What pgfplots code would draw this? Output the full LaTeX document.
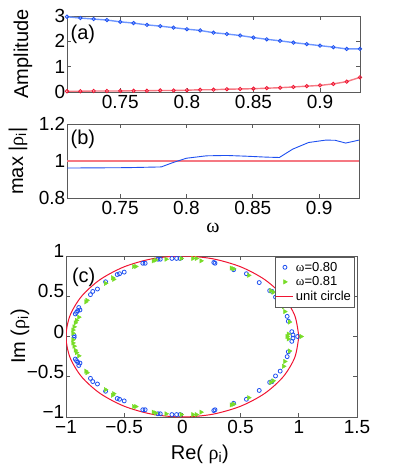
\documentclass[border=0pt]{standalone}
\usepackage{pgfplots}
\pgfplotsset{compat=1.18}
\usepackage{fontspec}
\setmainfont{Liberation Sans}
\newfontfamily\sym{Liberation Serif}

\definecolor{mblue}{RGB}{30,80,240}
\definecolor{lblue}{RGB}{110,150,255}
\definecolor{mred}{RGB}{240,20,50}
\definecolor{lred}{RGB}{245,120,130}
\definecolor{mgreen}{RGB}{120,220,40}
\definecolor{axgray}{RGB}{90,90,90}

\pgfplotsset{
  mstyle/.style={
    scale only axis,
    axis line style={axgray, line width=0.7pt},
    tick style={axgray, line width=0.7pt},
    tick align=inside,
    major tick length=4pt,
    tick label style={font=\fontsize{19}{19}\selectfont, text=black},
    xticklabel style={inner sep=3pt},
    yticklabel style={inner sep=1.5pt},
    label style={font=\fontsize{20}{20}\selectfont},
  },
}
\tikzset{tag/.style={anchor=north west, inner sep=0pt, font=\fontsize{20}{20}\selectfont}}

\begin{document}
\begin{tikzpicture}[x=1pt,y=1pt]
\useasboundingbox (0,0) rectangle (395,-469);

% (a) amplitudes
\begin{axis}[mstyle, at={(67pt,-92pt)}, anchor=south west,
  width=293pt, height=76pt, clip=false,
  xmin=0.71, xmax=0.93, ymin=0, ymax=3,
  xtick={0.75,0.8,0.85,0.9}, xticklabels={0.75,0.8,0.85,0.9},
  ytick={0,1,2,3}, yticklabels={0,1,2,3},
  ylabel={Amplitude},
  ylabel style={at={(axis description cs:-0.15,0.5)}, anchor=center},
]
\addplot[lblue, line width=1.4pt, mark=o, mark size=1.7pt,
  mark options={mblue, line width=0.8pt}] coordinates {
  (0.71,2.97) (0.72,2.92) (0.73,2.88) (0.74,2.84) (0.75,2.77) (0.76,2.72)
  (0.77,2.65) (0.78,2.60) (0.79,2.54) (0.80,2.48) (0.81,2.43) (0.82,2.34)
  (0.83,2.29) (0.84,2.23) (0.85,2.15) (0.86,2.08) (0.87,2.02) (0.88,1.95)
  (0.89,1.89) (0.90,1.83) (0.91,1.77) (0.92,1.70) (0.93,1.70)
};
\addplot[lred, line width=1.4pt, mark=o, mark size=1.7pt,
  mark options={mred, line width=0.8pt}] coordinates {
  (0.71,0.03) (0.72,0.03) (0.73,0.04) (0.74,0.04) (0.75,0.04) (0.76,0.05)
  (0.77,0.05) (0.78,0.06) (0.79,0.06) (0.80,0.07) (0.81,0.09) (0.82,0.09)
  (0.83,0.11) (0.84,0.12) (0.85,0.13) (0.86,0.15) (0.87,0.17) (0.88,0.20)
  (0.89,0.23) (0.90,0.26) (0.91,0.32) (0.92,0.41) (0.93,0.58)
};
\node[tag] at (rel axis cs:0.012,0.88) {(a)};
\end{axis}

% (b) max |rho_i|
\begin{axis}[mstyle, at={(67pt,-198pt)}, anchor=south west,
  width=292pt, height=74pt,
  xmin=0.71, xmax=0.93, ymin=0.8, ymax=1.2,
  xtick={0.75,0.8,0.85,0.9}, xticklabels={0.75,0.8,0.85,0.9},
  ytick={0.8,1,1.2}, yticklabels={0.8,1,1.2},
  xlabel={{\sym ω}},
  xlabel style={at={(axis description cs:0.5,-0.40)}, anchor=center},
  ylabel={max |{\sym ρ}\textsubscript{i}|},
  ylabel style={at={(axis description cs:-0.168,0.5)}, anchor=center},
]
\addplot[lred, line width=1.5pt] coordinates {(0.71,1) (0.93,1)};
\addplot[mblue, line width=0.9pt] coordinates {
  (0.710,0.962) (0.755,0.964) (0.781,0.968) (0.790,0.992) (0.800,1.015)
  (0.815,1.028) (0.830,1.030) (0.845,1.026) (0.860,1.021) (0.870,1.019)
  (0.880,1.064) (0.892,1.100) (0.905,1.113) (0.912,1.112) (0.920,1.097)
  (0.930,1.113)
};
\node[tag] at (rel axis cs:0.012,0.92) {(b)};
\end{axis}

% (c) eigenvalues in the complex plane
\begin{axis}[mstyle, at={(66pt,-417pt)}, anchor=south west,
  width=291pt, height=161pt,
  xmin=-1, xmax=1.5, ymin=-1, ymax=1,
  xtick={-1,-0.5,0,0.5,1,1.5}, xticklabels={−1,−0.5,0,0.5,1,1.5},
  ytick={-1,-0.5,0,0.5,1}, yticklabels={−1,−0.5,0,0.5,1},
  yticklabel style={yshift=5pt},
  xlabel={Re( {\sym ρ}\textsubscript{i})},
  xlabel style={at={(axis description cs:0.46,-0.23)}, anchor=center},
  ylabel={Im ({\sym ρ}\textsubscript{i})},
  ylabel style={at={(axis description cs:-0.158,0.5)}, anchor=center},
  legend style={at={(0.99,0.995)}, anchor=north east, draw=axgray,
    font=\fontsize{13}{13}\selectfont, inner xsep=1pt, inner ysep=3pt,
    row sep=0pt, cells={anchor=west}},
]
\addplot[only marks, mark=o, mark size=2pt, mark options={mblue, line width=0.8pt}]
coordinates {
  (-0.93,0.01) (-0.92,0.28) (-0.91,0.30) (-0.90,0.32) (-0.88,0.33) (-0.89,0.36)
  (-0.79,0.52) (-0.77,0.56) (-0.73,0.59) (-0.66,0.68) (-0.56,0.77) (-0.54,0.78)
  (-0.50,0.80) (-0.34,0.91) (-0.32,0.91) (-0.21,0.96) (-0.19,0.96) (-0.09,0.97)
  (-0.05,0.97) (-0.02,0.97) (0.27,0.92) (0.28,0.91) (0.44,0.83) (0.55,0.78)
  (0.66,0.67) (0.75,0.57) (0.77,0.56) (0.80,0.49) (0.84,0.43) (0.90,0.25)
  (0.91,0.19) (0.94,0.06) (0.95,0.02) (0.99,0)
  (-0.93,-0.01) (-0.92,-0.28) (-0.91,-0.30) (-0.90,-0.32) (-0.88,-0.33) (-0.89,-0.36)
  (-0.79,-0.52) (-0.77,-0.56) (-0.73,-0.59) (-0.66,-0.68) (-0.56,-0.77) (-0.54,-0.78)
  (-0.50,-0.80) (-0.34,-0.91) (-0.32,-0.91) (-0.21,-0.96) (-0.19,-0.96) (-0.09,-0.97)
  (-0.05,-0.97) (-0.02,-0.97) (0.27,-0.92) (0.28,-0.91) (0.44,-0.83) (0.55,-0.78)
  (0.66,-0.67) (0.75,-0.57) (0.77,-0.56) (0.80,-0.49) (0.84,-0.43) (0.90,-0.25)
  (0.91,-0.19) (0.94,-0.06) (0.95,-0.02)
};
\addlegendentry{{\sym ω}=0.80}
\addplot[only marks, mark=triangle*, mark size=2.5pt,
  mark options={mgreen, rotate=-90}]
coordinates {
  (-0.94,0.04) (-0.94,0.08) (-0.93,0.12) (-0.92,0.17) (-0.91,0.20) (-0.89,0.24)
  (-0.83,0.43) (-0.82,0.45) (-0.66,0.66) (-0.60,0.73) (-0.59,0.71) (-0.42,0.87)
  (-0.40,0.87) (-0.25,0.94) (-0.23,0.95) (-0.14,0.96) (-0.01,0.97) (0.09,0.97)
  (0.12,0.97) (0.16,0.94) (0.42,0.85) (0.44,0.84) (0.57,0.76) (0.76,0.57)
  (0.78,0.55) (0.87,0.37) (0.88,0.31) (0.92,0.18) (0.91,0.03) (0.90,0) (1.02,0)
  (-0.94,-0.04) (-0.94,-0.08) (-0.93,-0.12) (-0.92,-0.17) (-0.91,-0.20) (-0.89,-0.24)
  (-0.83,-0.43) (-0.82,-0.45) (-0.66,-0.66) (-0.60,-0.73) (-0.59,-0.71) (-0.42,-0.87)
  (-0.40,-0.87) (-0.25,-0.94) (-0.23,-0.95) (-0.14,-0.96) (-0.01,-0.97) (0.09,-0.97)
  (0.12,-0.97) (0.16,-0.94) (0.42,-0.85) (0.44,-0.84) (0.57,-0.76) (0.76,-0.57)
  (0.78,-0.55) (0.87,-0.37) (0.88,-0.31) (0.92,-0.18) (0.91,-0.03)
};
\addlegendentry{{\sym ω}=0.81}
\addplot[mred, line width=1pt, smooth] coordinates {
  (1,0) (0.9659,0.2588) (0.8660,0.5) (0.7071,0.7071) (0.5,0.8660) (0.2588,0.9659)
  (0,1) (-0.2588,0.9659) (-0.5,0.8660) (-0.7071,0.7071) (-0.8660,0.5)
  (-0.9659,0.2588) (-1,0) (-0.9659,-0.2588) (-0.8660,-0.5) (-0.7071,-0.7071)
  (-0.5,-0.8660) (-0.2588,-0.9659) (0,-1) (0.2588,-0.9659) (0.5,-0.8660)
  (0.7071,-0.7071) (0.8660,-0.5) (0.9659,-0.2588) (1,0)
};
\addlegendentry{unit circle}
\node[tag] at (rel axis cs:0.02,0.925) {(c)};
\end{axis}
\end{tikzpicture}
\end{document}
